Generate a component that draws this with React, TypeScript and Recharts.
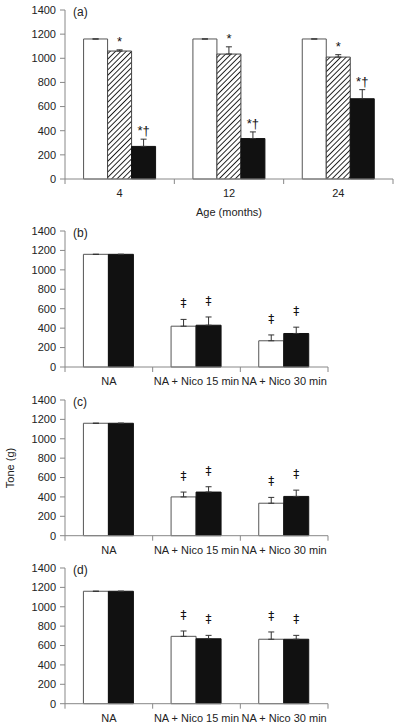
import { BarChart, Bar, XAxis, YAxis, ErrorBar, LabelList } from 'recharts';

// panel (a) – age groups
const ageCats = ['4', '12', '24'];
const aWhite = [1160, 1160, 1160];
const aWhiteErr = [0, 0, 0];
const aHatch = [1060, 1035, 1010];
const aHatchErr = [10, 60, 20];
const aBlack = [270, 335, 665];
const aBlackErr = [60, 55, 75];
const aNoMarks = ['', '', ''];
const aHatchMarks = ['*', '*', '*'];
const aBlackMarks = ['*†', '*†', '*†'];

// panels (b)-(d) – treatments
const treatCats = ['NA', 'NA + Nico 15 min', 'NA + Nico 30 min'];
const treatMarks = ['', '‡', '‡'];

const bWhite = [1160, 420, 270];
const bWhiteErr = [0, 70, 60];
const bBlack = [1160, 430, 345];
const bBlackErr = [0, 85, 65];

const cWhite = [1160, 400, 335];
const cWhiteErr = [0, 50, 60];
const cBlack = [1160, 450, 405];
const cBlackErr = [0, 55, 65];

const dWhite = [1160, 695, 665];
const dWhiteErr = [0, 55, 75];
const dBlack = [1160, 670, 665];
const dBlackErr = [0, 35, 40];

const yTicks = [0, 200, 400, 600, 800, 1000, 1200, 1400];

const FONT = '"Liberation Sans", Arial, sans-serif';
const AXIS = '#888';
const TEXT = '#222';

interface SeriesCfg {
  key: string;
  values: number[];
  errs: number[];
  marks: string[];
  fill: string;
  stroke: string;
}

type Row = Record<string, any>;

function buildRows(cats: string[], series: SeriesCfg[]): Row[] {
  return cats.map((cat, i) => {
    const row: Row = { cat };
    series.forEach((s) => {
      row[s.key] = s.values[i];
      row[s.key + 'Err'] = [0, s.errs[i]];
      row[s.key + 'E'] = s.errs[i];
      row[s.key + 'Mark'] = s.marks[i];
    });
    return row;
  });
}

// category label plus tick marks on the category boundaries
function CatTick(props: any) {
  const { x, y, payload, width, visibleTicksCount, index } = props;
  const half = payload?.offset ?? width / visibleTicksCount / 2;
  return (
    <g>
      <line x1={x - half} x2={x - half} y1={y} y2={y + 5} stroke={AXIS} />
      {index === visibleTicksCount - 1 && (
        <line x1={x + half} x2={x + half} y1={y} y2={y + 5} stroke={AXIS} />
      )}
      <text
        x={x}
        y={y + 14}
        textAnchor="middle"
        dominantBaseline="central"
        fontSize={11}
        fontFamily={FONT}
        fill={TEXT}
      >
        {payload.value}
      </text>
    </g>
  );
}

// significance marks sit above the error bar
function markContent(rows: Row[], key: string) {
  return (p: any) => {
    const vb = p.viewBox ?? {};
    const x = p.x ?? vb.x;
    const y = p.y ?? vb.y;
    const w = p.width ?? vb.width;
    const h = p.height ?? vb.height;
    const row = rows[p.index];
    if (!row) return null;
    const mark = row[key + 'Mark'];
    if (!mark) return null;
    const ppu = h / row[key];
    const errTop = y - row[key + 'E'] * ppu;
    const dd = mark === '‡';
    return (
      <text
        x={x + w / 2}
        y={errTop - (dd ? 12 : 4)}
        textAnchor="middle"
        fontSize={dd ? 12 : 13}
        fontFamily={dd ? '"DejaVu Sans", sans-serif' : FONT}
        fill="#111"
      >
        {mark}
      </text>
    );
  };
}

interface PanelProps {
  tag: string;
  cats: string[];
  series: SeriesCfg[];
  plotTop: number;
  plotBottom: number;
  plotRight: number;
  gap: string;
}

function Panel({ tag, cats, series, plotTop, plotBottom, plotRight, gap }: PanelProps) {
  const rows = buildRows(cats, series);
  const mTop = 5;
  const xH = 25;
  const height = plotBottom - plotTop + mTop + xH;
  return (
    <div style={{ position: 'absolute', left: 0, top: plotTop - mTop, width: 400, height }}>
      <BarChart
        width={400}
        height={height}
        data={rows}
        margin={{ top: mTop, right: 400 - plotRight, left: 0, bottom: 0 }}
        barCategoryGap={gap}
        barGap={0}
      >
        <XAxis
          dataKey="cat"
          height={xH}
          stroke={AXIS}
          tickLine={false}
          tickSize={0}
          tickMargin={0}
          tick={<CatTick />}
          interval={0}
        />
        <YAxis
          width={65}
          domain={[0, 1400]}
          ticks={yTicks}
          interval={0}
          stroke={AXIS}
          tickSize={5}
          tickMargin={4}
          tick={{ fill: TEXT, fontSize: 11, fontFamily: FONT }}
        />
        {series.map((s) => (
          <Bar
            key={s.key}
            dataKey={s.key}
            fill={s.fill}
            stroke={s.stroke}
            strokeWidth={1}
            isAnimationActive={false}
          >
            <ErrorBar dataKey={s.key + 'Err'} direction="y" width={3} stroke="#333" strokeWidth={1} />
            <LabelList dataKey={s.key + 'Mark'} content={markContent(rows, s.key)} />
          </Bar>
        ))}
      </BarChart>
      <div
        style={{
          position: 'absolute',
          left: 73,
          top: mTop + 2 - 7,
          fontSize: 12,
          lineHeight: '14px',
          fontFamily: FONT,
          color: TEXT,
        }}
      >
        ({tag})
      </div>
    </div>
  );
}

const WHITE = { fill: '#ffffff', stroke: '#555' };
const BLACK = { fill: '#111111', stroke: '#111' };
const HATCH = { fill: 'url(#hatch)', stroke: '#444' };

export default function App() {
  const panelA: SeriesCfg[] = [
    { key: 'w', values: aWhite, errs: aWhiteErr, marks: aNoMarks, ...WHITE },
    { key: 'h', values: aHatch, errs: aHatchErr, marks: aHatchMarks, ...HATCH },
    { key: 'b', values: aBlack, errs: aBlackErr, marks: aBlackMarks, ...BLACK },
  ];
  const mk = (w: number[], we: number[], b: number[], be: number[]): SeriesCfg[] => [
    { key: 'w', values: w, errs: we, marks: treatMarks, ...WHITE },
    { key: 'b', values: b, errs: be, marks: treatMarks, ...BLACK },
  ];

  return (
    <div
      style={{
        position: 'absolute',
        left: 0,
        top: 0,
        width: 400,
        height: 726,
        background: '#fff',
        fontFamily: FONT,
        overflow: 'hidden',
      }}
    >
      <svg width={0} height={0} style={{ position: 'absolute' }}>
        <defs>
          <pattern id="hatch" patternUnits="userSpaceOnUse" width={3.8} height={3.8} patternTransform="rotate(45)">
            <rect width={3.8} height={3.8} fill="#fff" />
            <line x1={0} y1={0} x2={0} y2={3.8} stroke="#111" strokeWidth={1.8} />
          </pattern>
        </defs>
      </svg>

      <Panel tag="a" cats={ageCats} series={panelA} plotTop={10} plotBottom={179} plotRight={393} gap="17%" />
      <div
        style={{
          position: 'absolute',
          left: 129,
          width: 200,
          top: 205,
          textAlign: 'center',
          fontSize: 11,
          lineHeight: '14px',
          color: TEXT,
        }}
      >
        Age (months)
      </div>

      <Panel
        tag="b"
        cats={treatCats}
        series={mk(bWhite, bWhiteErr, bBlack, bBlackErr)}
        plotTop={230.7}
        plotBottom={366.7}
        plotRight={328}
        gap="21%"
      />
      <Panel
        tag="c"
        cats={treatCats}
        series={mk(cWhite, cWhiteErr, cBlack, cBlackErr)}
        plotTop={400}
        plotBottom={535.7}
        plotRight={328}
        gap="21%"
      />
      <Panel
        tag="d"
        cats={treatCats}
        series={mk(dWhite, dWhiteErr, dBlack, dBlackErr)}
        plotTop={568.3}
        plotBottom={704}
        plotRight={328}
        gap="21%"
      />

      <div
        style={{
          position: 'absolute',
          left: 10,
          top: 468,
          transform: 'translate(-50%, -50%) rotate(-90deg)',
          fontSize: 11,
          lineHeight: '14px',
          whiteSpace: 'nowrap',
          color: TEXT,
        }}
      >
        Tone (g)
      </div>
    </div>
  );
}
